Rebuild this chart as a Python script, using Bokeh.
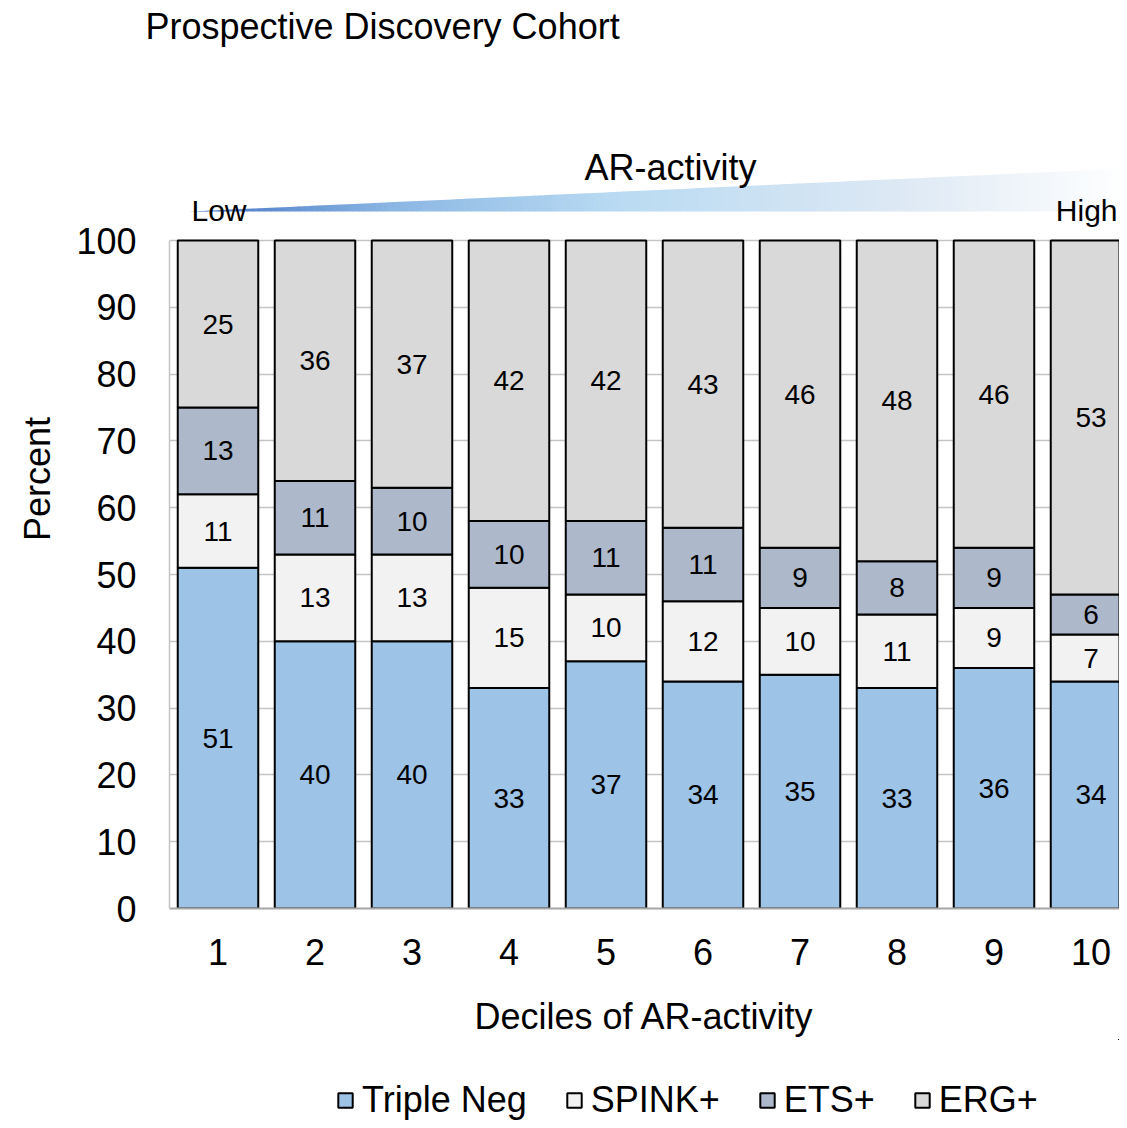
from bokeh.plotting import figure
from bokeh.layouts import column
from bokeh.models import FixedTicker, Range1d, Legend, LegendItem, ColumnDataSource
from bokeh.core.properties import value
from bokeh.embed import file_html
from bokeh.resources import INLINE

# ---- data ----
deciles = [1, 2, 3, 4, 5, 6, 7, 8, 9, 10]
triple_neg = [51, 40, 40, 33, 37, 34, 35, 33, 36, 34]
spink = [11, 13, 13, 15, 10, 12, 10, 11, 9, 7]
ets = [13, 11, 10, 10, 11, 11, 9, 8, 9, 6]
erg = [25, 36, 37, 42, 42, 43, 46, 48, 46, 53]
series_names = ["Triple Neg", "SPINK+", "ETS+", "ERG+"]
y_ticks = list(range(0, 101, 10))

# ---- styles ----
colors = ["#9DC3E6", "#F2F2F2", "#ADB9CA", "#D9D9D9"]
FONT = "Liberation Sans"
PX_PER_UNIT_Y = 6.68
BORDER_LEFT = 169
FRAME_TOP = 49
frame_height = 908 - FRAME_TOP
frame_width = 950
y_end = 100 + (240 - FRAME_TOP) / PX_PER_UNIT_Y
x_start = 0.5
x_end = 0.5 + frame_width / 97.0
RIGHT_PX = 169 + frame_width

p = figure(frame_width=frame_width, frame_height=frame_height,
           x_range=Range1d(x_start, x_end), y_range=Range1d(0, y_end),
           output_backend="svg", toolbar_location=None,
           min_border_left=BORDER_LEFT, min_border_right=0, min_border_top=0,
           min_border_bottom=0)
p.outline_line_color = None
p.background_fill_color = "white"
p.border_fill_color = "white"

p.title.text = "Prospective Discovery Cohort"
p.title.text_font = FONT
p.title.text_font_size = "36px"
p.title.text_font_style = "normal"
p.title.text_color = "black"
p.title.align = "left"
p.title.offset = -24
p.title.standoff = 6

# stacked bars
cols = ["tn", "sp", "et", "er"]
src = ColumnDataSource(dict(x=deciles, tn=triple_neg, sp=spink, et=ets, er=erg))
rends = p.vbar_stack(cols, x="x", width=0.83, color=colors, line_color="black",
                     line_width=2, source=src)

# segment labels
series = [triple_neg, spink, ets, erg]
bottom = [0] * len(deciles)
for vals in series:
    mids = [b + v / 2 for b, v in zip(bottom, vals)]
    p.text(x=deciles, y=mids, text=[str(v) for v in vals],
           text_font=value(FONT), text_font_size="28px", text_align="center",
           text_baseline="middle", text_color="black")
    bottom = [b + v for b, v in zip(bottom, vals)]

# axes
p.xaxis.ticker = FixedTicker(ticks=deciles)
p.yaxis.ticker = FixedTicker(ticks=y_ticks)
p.ygrid.ticker = FixedTicker(ticks=y_ticks)
p.xgrid.visible = False
p.ygrid.grid_line_color = "#C4C4C4"
p.ygrid.grid_line_width = 1.5
p.yaxis.bounds = (0, 100)
for ax in (p.xaxis[0], p.yaxis[0]):
    ax.major_tick_line_color = None
    ax.minor_tick_line_color = None
    ax.major_label_text_font = FONT
    ax.major_label_text_font_size = "36px"
    ax.major_label_text_color = "black"
    ax.axis_label_text_font = FONT
    ax.axis_label_text_font_size = "36px"
    ax.axis_label_text_font_style = "normal"
    ax.axis_label_text_color = "black"
p.xaxis.axis_line_color = "#A6A6A6"
p.xaxis.axis_line_width = 2
p.yaxis.axis_line_color = "#C4C4C4"
p.yaxis.axis_line_width = 1.5
p.xaxis.major_label_standoff = 24
p.yaxis.major_label_standoff = 27
p.xaxis.axis_label = "Deciles of AR-activity"
p.yaxis.axis_label = "Percent"
p.xaxis.axis_label_standoff = 28
p.yaxis.axis_label_standoff = 15

# AR-activity gradient wedge (decoration)
def px_x(px):
    return 0.5 + (px - 169) / 97.0

def px_y(py):
    return 100 + (240 - py) / PX_PER_UNIT_Y

stops = [(0.0, (0x44, 0x72, 0xC4)), (0.22, (0x8C, 0xB7, 0xE4)),
         (0.45, (0xB8, 0xDA, 0xF2)), (0.75, (0xDC, 0xE8, 0xF4)),
         (1.0, (0xFF, 0xFF, 0xFF))]

def grad(t):
    for (t0, c0), (t1, c1) in zip(stops[:-1], stops[1:]):
        if t <= t1:
            f = (t - t0) / (t1 - t0)
            c = [int(round(a + (b - a) * f)) for a, b in zip(c0, c1)]
            return "#%02x%02x%02x" % tuple(c)
    return "#ffffff"

tip_px, end_px = 188, 1127
N = 160
xs, ys, fc = [], [], []
for i in range(N):
    a = tip_px + (end_px - tip_px) * i / N
    b = tip_px + (end_px - tip_px) * (i + 1) / N + 0.6
    ta = 211 - 43 * (a - tip_px) / (end_px - tip_px)
    tb = 211 - 43 * (b - tip_px) / (end_px - tip_px)
    xs.append([px_x(a), px_x(b), px_x(b), px_x(a)])
    ys.append([px_y(211), px_y(211), px_y(tb), px_y(ta)])
    fc.append(grad((i + 0.5) / N))
p.patches(xs, ys, fill_color=fc, line_color=None)

p.text(x=[px_x(191)], y=[px_y(210)], text=["Low"], text_font=value(FONT),
       text_font_size="30px", text_align="left", text_baseline="alphabetic")
p.text(x=[px_x(RIGHT_PX - 2)], y=[px_y(210)], text=["High"], text_font=value(FONT),
       text_font_size="30px", text_align="right", text_baseline="alphabetic")
p.text(x=[px_x(670)], y=[px_y(167)], text=["AR-activity"], text_font=value(FONT),
       text_font_size="36px", text_align="center", text_baseline="alphabetic")

# legend in its own strip below the chart (proxy bars kept far out of view)
pl = figure(width=BORDER_LEFT + frame_width, height=82, x_range=Range1d(-40, -39),
            y_range=Range1d(-40, -39), x_axis_type=None, y_axis_type=None,
            output_backend="svg", toolbar_location=None,
            min_border_left=BORDER_LEFT, min_border_right=0, min_border_top=0,
            min_border_bottom=0)
pl.outline_line_color = None
pl.grid.visible = False
proxies = pl.vbar_stack(cols, x="x", width=0.83, color=colors, line_color="black",
                        line_width=2, source=src)
items = [LegendItem(label=n, renderers=[r]) for n, r in zip(series_names, proxies)]
legend = Legend(items=items, orientation="horizontal", location=(167, 0),
                label_text_font=FONT, label_text_font_size="36px",
                label_text_color="black",
                glyph_width=18, glyph_height=18, label_standoff=8, spacing=38,
                padding=0, margin=0, border_line_color=None,
                background_fill_alpha=0)
pl.add_layout(legend)

layout = column(p, pl, spacing=0)
open("out.html", "w").write(file_html(layout, INLINE))
